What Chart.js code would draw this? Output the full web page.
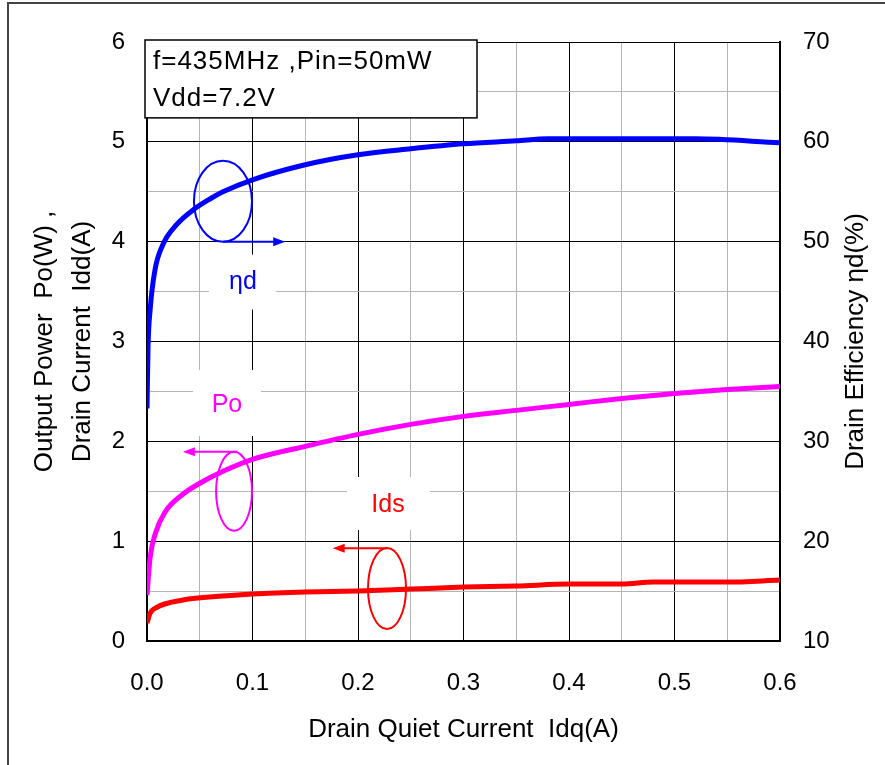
<!DOCTYPE html>
<html>
<head>
<meta charset="utf-8">
<script src="https://cdn.jsdelivr.net/npm/chart.js@4"></script>
<style>
  html, body { margin: 0; padding: 0; background: #fff; }
  #wrap { width: 885px; height: 765px; }
</style>
</head>
<body>
<div id="wrap"><canvas id="chart" width="885" height="765"></canvas></div>
<script>
// Output power Po (W) vs quiescent drain current Idq (A)
const poIdq = [0, 0.003, 0.008, 0.017, 0.034, 0.05, 0.072, 0.1, 0.15, 0.2, 0.25, 0.3, 0.35, 0.4, 0.45, 0.5, 0.55, 0.6];
const poW   = [0.46, 0.84, 1.08, 1.29, 1.47, 1.58, 1.70, 1.82, 1.95, 2.07, 2.17, 2.25, 2.31, 2.37, 2.43, 2.48, 2.52, 2.55];

// Drain current Ids (A)
const idsIdq = [0, 0.003, 0.008, 0.034, 0.072, 0.1, 0.15, 0.2, 0.25, 0.3, 0.35, 0.4, 0.45, 0.48, 0.55, 0.6];
const idsA   = [0.18, 0.28, 0.33, 0.41, 0.45, 0.47, 0.49, 0.50, 0.52, 0.54, 0.55, 0.57, 0.57, 0.59, 0.59, 0.61];

// Drain efficiency (%) on the right axis
const effIdq = [0, 0.001, 0.003, 0.0076, 0.015, 0.028, 0.044, 0.06, 0.072, 0.1, 0.15, 0.2, 0.25, 0.3, 0.35, 0.38, 0.52, 0.6];
const effPct = [33.3, 39.5, 43.2, 47.2, 49.7, 51.7, 53.2, 54.3, 55.0, 56.2, 57.7, 58.7, 59.3, 59.8, 60.1, 60.3, 60.3, 59.9];

const xTicks = [0, 0.1, 0.2, 0.3, 0.4, 0.5, 0.6];
const leftTicks = [0, 1, 2, 3, 4, 5, 6];
const rightTicks = [10, 20, 30, 40, 50, 60, 70];

const FONT = "'Liberation Sans', Arial, sans-serif";
Chart.defaults.font.family = FONT;
Chart.defaults.color = '#000';

const pts = (xs, ys) => xs.map((x, i) => ({ x, y: ys[i] }));
const near = (v, list) => list.some(t => Math.abs(t - v) < 1e-6);

// callouts: ellipse around the curve with an arrow to its axis
const callouts = [
  { color: '#0000ff', cx: 0.072, cy: 4.405, rx: 0.0275, ry: 0.406, from: [0.072, 4.0], to: [0.131, 4.0] },
  { color: '#ff00ff', cx: 0.0825, cy: 1.5, rx: 0.017, ry: 0.396, from: [0.0858, 1.895], to: [0.034, 1.895] },
  { color: '#ff0000', cx: 0.2275, cy: 0.526, rx: 0.018, ry: 0.406, from: [0.2275, 0.93], to: [0.176, 0.93] },
];
const curveLabels = [
  { text: 'ηd',  color: '#0000ff', x: 0.091, y: 3.59, box: [0.0588, 3.87, 0.1223, 3.32] },
  { text: 'Po',  color: '#ff00ff', x: 0.0758, y: 2.365, box: [0.0436, 2.715, 0.108, 2.054] },
  { text: 'Ids', color: '#ff0000', x: 0.2284, y: 1.363, box: [0.1896, 1.643, 0.2682, 1.112] },
];
const condLines = ['f=435MHz ,Pin=50mW', 'Vdd=7.2V'];

const decor = {
  id: 'decor',
  beforeDatasetsDraw(chart) {
    const { ctx, scales: { x, y } } = chart;
    ctx.save();
    ctx.fillStyle = '#fff';
    for (const l of curveLabels) {
      const [x0, y0, x1, y1] = l.box;
      ctx.fillRect(x.getPixelForValue(x0), y.getPixelForValue(y0),
        x.getPixelForValue(x1) - x.getPixelForValue(x0), y.getPixelForValue(y1) - y.getPixelForValue(y0));
    }
    // condition box in the top-left corner
    const bx = x.getPixelForValue(0) - 2, by = y.getPixelForValue(6) - 2;
    const bw = x.getPixelForValue(0.3128) - bx, bh = y.getPixelForValue(5.24) - by;
    ctx.fillRect(bx, by, bw, bh);
    ctx.strokeStyle = '#000';
    ctx.lineWidth = 1.5;
    ctx.strokeRect(bx, by, bw, bh);
    ctx.fillStyle = '#000';
    ctx.font = '26px ' + FONT;
    ctx.letterSpacing = '1px';
    ctx.textBaseline = 'middle';
    ctx.fillText(condLines[0], bx + 8, by + 22);
    ctx.fillText(condLines[1], bx + 8, by + 59);
    ctx.restore();
  },
  afterDatasetsDraw(chart) {
    const { ctx, scales: { x, y } } = chart;
    ctx.save();
    ctx.lineWidth = 2;
    for (const c of callouts) {
      ctx.strokeStyle = c.color;
      ctx.fillStyle = c.color;
      const px = x.getPixelForValue(c.cx), py = y.getPixelForValue(c.cy);
      const rx = x.getPixelForValue(c.cx + c.rx) - px;
      const ry = py - y.getPixelForValue(c.cy + c.ry);
      ctx.beginPath();
      ctx.ellipse(px, py, rx, ry, 0, 0, Math.PI * 2);
      ctx.stroke();
      const ax = x.getPixelForValue(c.from[0]), ay = y.getPixelForValue(c.from[1]);
      const tx = x.getPixelForValue(c.to[0]);
      const dir = Math.sign(tx - ax);
      ctx.beginPath();
      ctx.moveTo(ax, ay);
      ctx.lineTo(tx - dir * 8, ay);
      ctx.stroke();
      ctx.beginPath();
      ctx.moveTo(tx, ay);
      ctx.lineTo(tx - dir * 12, ay - 4.5);
      ctx.lineTo(tx - dir * 12, ay + 4.5);
      ctx.closePath();
      ctx.fill();
    }
    ctx.font = '25px ' + FONT;
    ctx.textAlign = 'center';
    ctx.textBaseline = 'middle';
    for (const l of curveLabels) {
      ctx.fillStyle = l.color;
      ctx.fillText(l.text, x.getPixelForValue(l.x), y.getPixelForValue(l.y));
    }
    ctx.restore();
  },
  afterDraw(chart) {
    const { ctx, chartArea, width, height } = chart;
    ctx.save();
    // right axis title reads bottom-to-top
    ctx.translate(chartArea.right + 76, (chartArea.top + chartArea.bottom) / 2);
    ctx.rotate(-Math.PI / 2);
    ctx.font = '26px ' + FONT;
    ctx.fillStyle = '#000';
    ctx.textAlign = 'center';
    ctx.textBaseline = 'middle';
    ctx.fillText('Drain Efficiency ηd(%)', 0, 0);
    ctx.restore();
    // outer frame
    ctx.save();
    ctx.strokeStyle = '#444';
    ctx.lineWidth = 2;
    ctx.beginPath();
    ctx.moveTo(8, height);
    ctx.lineTo(8, 3);
    ctx.lineTo(width, 3);
    ctx.stroke();
    ctx.restore();
  }
};

const lineStyle = { borderWidth: 5, pointRadius: 0, fill: false, cubicInterpolationMode: 'monotone' };

new Chart(document.getElementById('chart'), {
  type: 'line',
  data: {
    datasets: [
      { label: 'ηd', data: pts(effIdq, effPct), borderColor: '#0000ff', yAxisID: 'y2', ...lineStyle },
      { label: 'Po', data: pts(poIdq, poW), borderColor: '#ff00ff', yAxisID: 'y', ...lineStyle },
      { label: 'Ids', data: pts(idsIdq, idsA), borderColor: '#ff0000', yAxisID: 'y', ...lineStyle },
    ],
  },
  options: {
    responsive: false,
    animation: false,
    devicePixelRatio: 1,
    layout: { padding: { top: 42, left: 0, right: 0, bottom: 0 } },
    plugins: { legend: { display: false }, tooltip: { enabled: false } },
    scales: {
      x: {
        type: 'linear', min: 0, max: 0.6,
        afterFit: s => { s.height = 124; },
        ticks: {
          stepSize: 0.05, autoSkip: false, maxRotation: 0, padding: 28,
          font: { size: 24 },
          callback: v => near(v, xTicks) ? v.toFixed(1) : '',
        },
        grid: {
          drawTicks: false,
          color: c => near(c.tick.value, xTicks) ? '#000' : '#b4b4b4',
        },
        border: { color: '#000', width: 2 },
        title: {
          display: true, text: 'Drain Quiet Current  Idq(A)',
          font: { size: 26 }, padding: { top: 0, bottom: 20 },
        },
      },
      y: {
        position: 'left', min: 0, max: 6,
        afterFit: s => { s.width = 147; },
        ticks: {
          stepSize: 0.5, autoSkip: false, padding: 22,
          font: { size: 24 },
          callback: v => near(v, leftTicks) ? String(v) : '',
        },
        grid: {
          drawTicks: false,
          color: c => near(c.tick.value, leftTicks) ? '#000' : '#b4b4b4',
        },
        border: { color: '#000', width: 2 },
        title: {
          display: true, text: ['Output Power  Po(W) ,', 'Drain Current  Idd(A)'],
          font: { size: 26, lineHeight: 1.46 }, padding: { top: 26, bottom: 0 },
        },
      },
      y2: {
        position: 'right', min: 10, max: 70,
        afterFit: s => { s.width = 105; },
        ticks: {
          stepSize: 10, autoSkip: false, padding: 23,
          font: { size: 24 },
          callback: v => near(v, rightTicks) ? String(v) : '',
        },
        grid: { drawOnChartArea: false, drawTicks: false },
        border: { color: '#000', width: 2 },
      },
    },
  },
  plugins: [decor],
});
</script>
</body>
</html>
